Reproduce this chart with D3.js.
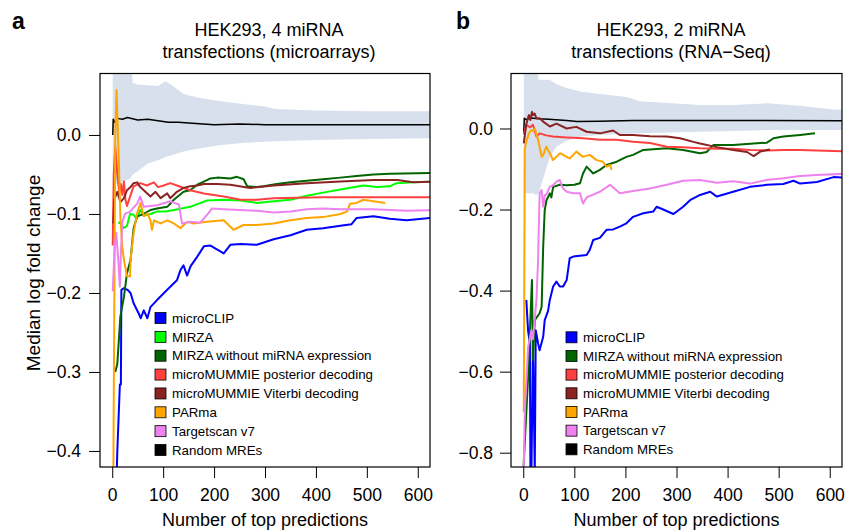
<!DOCTYPE html>
<html lang="en">
<head>
<meta charset="UTF-8">
<title>Median log fold change</title>
<script src="https://cdn.jsdelivr.net/npm/d3@7"></script>
<style>
  body { margin: 0; background: #fff; }
  text { font-family: "Liberation Sans", Arial, sans-serif; fill: #000; }
</style>
</head>
<body>
<svg id="chart" width="845" height="532"></svg>
<script>
// legend entries for each panel
var legendA = ['microCLIP', 'MIRZA', 'MIRZA without miRNA expression', 'microMUMMIE posterior decoding',
  'microMUMMIE Viterbi decoding', 'PARma', 'Targetscan v7', 'Random MREs']
var legendB = ['microCLIP', 'MIRZA without miRNA expression', 'microMUMMIE posterior decoding',
  'microMUMMIE Viterbi decoding', 'PARma', 'Targetscan v7', 'Random MREs']

var xTicks = [0, 100, 200, 300, 400, 500, 600]
var yTicksA = [0, -0.1, -0.2, -0.3, -0.4]
var yTicksB = [0, -0.2, -0.4, -0.6, -0.8]

// panel a : random MRE band (x, upper, lower)
var bandA_x = [1, 10, 20, 35, 40, 50, 70, 90, 105, 115, 140, 170, 210, 260, 300, 320, 400, 500, 640]
var bandA_hi = [0.12, 0.12, 0.12, 0.12, 0.066, 0.064, 0.063, 0.062, 0.068, 0.064, 0.052, 0.047, 0.043, 0.039, 0.036, 0.033, 0.031, 0.030, 0.030]
var bandA_lo = [-0.06, -0.062, -0.06, -0.055, -0.05, -0.046, -0.036, -0.032, -0.028, -0.026, -0.021, -0.017, -0.013, -0.010, -0.0085, -0.008, -0.0065, -0.005, -0.004]

// panel a : series, [number of predictions, median lfc]
var randomA = [[1,0.0],[2,0.02],[5,0.016],[10,0.021],[20,0.020],[30,0.022],[50,0.019],[70,0.020],[90,0.018],[110,0.016],[130,0.016],[150,0.015],[200,0.013],[250,0.014],[300,0.013],[400,0.013],[500,0.013],[640,0.013]]
var clipA = [[5,-0.45],[8,-0.45],[10,-0.40],[15,-0.316],[17,-0.316],[18,-0.196],[23,-0.194],[30,-0.196],[36,-0.200],[42,-0.213],[52,-0.226],[56,-0.232],[62,-0.222],[69,-0.232],[75,-0.218],[88,-0.209],[108,-0.196],[127,-0.184],[134,-0.171],[140,-0.165],[147,-0.178],[154,-0.166],[167,-0.154],[180,-0.141],[193,-0.140],[219,-0.150],[232,-0.139],[252,-0.138],[284,-0.139],[317,-0.132],[350,-0.127],[382,-0.120],[414,-0.118],[448,-0.115],[470,-0.113],[480,-0.105],[513,-0.103],[545,-0.106],[578,-0.108],[640,-0.104]]
var mirzaA = [[12,-0.112],[16,-0.110],[22,-0.118],[29,-0.115],[35,-0.100],[42,-0.101],[48,-0.106],[55,-0.095],[62,-0.102],[75,-0.100],[88,-0.097],[105,-0.097],[121,-0.095],[153,-0.091],[186,-0.083],[219,-0.082],[252,-0.083],[284,-0.086],[317,-0.084],[350,-0.082],[382,-0.077],[414,-0.073],[448,-0.069],[493,-0.064],[520,-0.066],[545,-0.065],[558,-0.061],[591,-0.060],[640,-0.059]]
var mirzaNoExprA = [[6,-0.30],[10,-0.29],[16,-0.23],[23,-0.205],[29,-0.175],[36,-0.158],[42,-0.118],[49,-0.103],[62,-0.100],[75,-0.095],[88,-0.093],[108,-0.091],[121,-0.082],[140,-0.072],[153,-0.070],[167,-0.063],[180,-0.059],[193,-0.055],[206,-0.054],[232,-0.055],[245,-0.053],[258,-0.056],[265,-0.065],[284,-0.066],[297,-0.065],[323,-0.062],[350,-0.060],[382,-0.058],[414,-0.056],[448,-0.054],[480,-0.052],[513,-0.050],[545,-0.049],[640,-0.048]]
var posteriorA = [[1,-0.14],[3,-0.05],[6,-0.015],[10,-0.05],[14,-0.074],[17,-0.062],[20,-0.076],[23,-0.059],[26,-0.082],[29,-0.090],[35,-0.078],[42,-0.065],[55,-0.061],[68,-0.064],[82,-0.060],[90,-0.066],[101,-0.064],[114,-0.061],[127,-0.064],[153,-0.070],[180,-0.074],[219,-0.078],[252,-0.082],[284,-0.082],[317,-0.080],[414,-0.079],[640,-0.079]]
var viterbiA = [[2,-0.112],[4,-0.082],[10,-0.072],[16,-0.085],[23,-0.080],[29,-0.070],[36,-0.066],[42,-0.061],[49,-0.060],[55,-0.066],[62,-0.070],[75,-0.078],[85,-0.072],[95,-0.080],[108,-0.074],[114,-0.080],[127,-0.072],[140,-0.067],[153,-0.065],[167,-0.064],[180,-0.062],[206,-0.062],[232,-0.063],[271,-0.067],[317,-0.064],[382,-0.061],[448,-0.059],[513,-0.057],[560,-0.057],[591,-0.060],[640,-0.059]]
var parmaA = [[2,-0.45],[6,0.0],[8.4,0.057],[13,-0.032],[16,-0.103],[19.6,-0.141],[23,-0.158],[29,-0.179],[35,-0.179],[36,-0.158],[42,-0.124],[49,-0.099],[55.5,-0.086],[62,-0.103],[69,-0.099],[75,-0.108],[78,-0.120],[82,-0.108],[95,-0.112],[108,-0.108],[121,-0.112],[134,-0.118],[147,-0.110],[160,-0.112],[186,-0.110],[219,-0.108],[238,-0.120],[258,-0.114],[284,-0.114],[317,-0.112],[350,-0.108],[382,-0.105],[414,-0.104],[448,-0.100],[461,-0.097],[467,-0.087],[480,-0.086],[493,-0.082],[513,-0.084],[536,-0.086]]
var tscanA = [[1,-0.198],[5,-0.14],[8,-0.124],[12,-0.16],[15,-0.192],[17,-0.15],[20,-0.11],[25,-0.100],[35,-0.097],[42,-0.092],[49,-0.087],[55,-0.078],[62,-0.091],[88,-0.089],[114,-0.084],[131,-0.088],[137,-0.112],[153,-0.110],[173,-0.111],[189,-0.099],[196,-0.093],[219,-0.094],[284,-0.096],[317,-0.098],[350,-0.097],[382,-0.094],[414,-0.093],[448,-0.094],[513,-0.094],[578,-0.096],[640,-0.095]]

// panel b : random MRE band
var bandB_x = [1, 10, 20, 25, 30, 40, 52, 65, 85, 111, 150, 202, 228, 281, 346, 411, 477, 542, 607, 640]
var bandB_hi = [0.2, 0.2, 0.2, 0.2, 0.12, 0.12, 0.12, 0.11, 0.10, 0.091, 0.085, 0.078, 0.067, 0.063, 0.058, 0.058, 0.062, 0.056, 0.047, 0.045]
var bandB_lo = [-0.16, -0.16, -0.16, -0.165, -0.16, -0.12, -0.07, -0.045, -0.030, -0.020, -0.016, -0.013, -0.012, -0.010, -0.008, -0.006, -0.004, -0.004, -0.004, -0.004]

// panel b : series
var randomB = [[1,-0.01],[2,0.025],[5,0.022],[15,0.026],[30,0.024],[50,0.023],[85,0.020],[105,0.017],[150,0.018],[215,0.020],[346,0.020],[640,0.019]]
var clipB = [[6,-0.423],[9.5,-0.50],[13,-0.53],[14,-0.85],[16,-0.85],[19,-0.53],[22.5,-0.85],[24.5,-0.498],[29,-0.53],[32,-0.547],[39,-0.514],[42,-0.473],[48.6,-0.45],[52,-0.423],[58.5,-0.39],[65,-0.378],[71.5,-0.39],[78,-0.39],[85,-0.374],[91,-0.32],[98,-0.316],[124,-0.312],[130,-0.30],[137,-0.275],[150,-0.27],[163,-0.25],[176,-0.249],[189,-0.242],[202,-0.234],[215,-0.218],[235,-0.209],[254.5,-0.205],[261,-0.193],[274,-0.200],[294,-0.211],[313,-0.193],[326.5,-0.177],[346,-0.164],[366,-0.156],[379,-0.168],[411,-0.156],[444,-0.144],[477,-0.139],[509,-0.137],[529,-0.129],[542,-0.136],[575,-0.132],[607.5,-0.120],[640,-0.122]]
var mirzaNoExprB = [[0,-0.85],[9.5,-0.613],[13,-0.50],[17,-0.374],[19,-0.572],[22.5,-0.473],[32,-0.456],[36,-0.44],[39,-0.292],[42,-0.201],[45.5,-0.177],[52,-0.160],[55,-0.170],[58.5,-0.144],[71.5,-0.139],[85,-0.140],[100,-0.139],[111,-0.135],[117,-0.111],[124,-0.094],[137,-0.111],[150,-0.102],[163,-0.090],[183,-0.082],[202,-0.070],[215,-0.065],[235,-0.053],[281,-0.049],[313,-0.053],[346,-0.061],[359,-0.058],[372,-0.041],[411,-0.041],[451,-0.037],[477,-0.035],[490,-0.024],[509,-0.020],[542,-0.016],[571,-0.012]]
var posteriorB = [[1,-0.015],[6,0.009],[13,0.003],[19,0.009],[26,-0.020],[32,-0.012],[45,-0.017],[58,-0.020],[85,-0.022],[117,-0.024],[150,-0.028],[183,-0.028],[215,-0.033],[248,-0.036],[281,-0.045],[313,-0.046],[346,-0.049],[379,-0.050],[411,-0.050],[444,-0.053],[477,-0.054],[510,-0.053],[542,-0.053],[575,-0.054],[640,-0.057]]
var viterbiB = [[1,-0.037],[6,0.011],[11,0.033],[14,0.021],[17,0.041],[19,0.033],[22,0.037],[26,0.025],[32,0.025],[39,0.017],[52,0.005],[65,0.012],[85,0.0],[104,0.004],[124,-0.008],[150,-0.012],[176,-0.005],[189,-0.016],[215,-0.016],[248,-0.019],[281,-0.020],[307,-0.024],[333,-0.033],[346,-0.037],[379,-0.046],[411,-0.053],[438,-0.058],[451,-0.068],[464,-0.057],[477,-0.053],[483,-0.052]]
var parmaB = [[1,-0.70],[3,-0.05],[6,-0.033],[11,-0.012],[16,-0.004],[19,-0.006],[22.5,0.0],[29,-0.028],[32,-0.045],[36,-0.070],[39,-0.065],[45,-0.045],[52,-0.061],[58,-0.078],[65,-0.070],[72,-0.061],[85,-0.070],[91,-0.074],[104,-0.057],[117,-0.070],[130,-0.065],[143.5,-0.078],[156,-0.082],[163,-0.094],[170,-0.090],[173,-0.102]]
var tscanB = [[1,-0.84],[3,-0.70],[9.5,-0.539],[16,-0.498],[19,-0.52],[26,-0.42],[29,-0.325],[32,-0.16],[36,-0.152],[39,-0.193],[42,-0.165],[45.5,-0.162],[52,-0.144],[58.5,-0.140],[65,-0.131],[71.5,-0.127],[75,-0.140],[78,-0.148],[85,-0.156],[98,-0.160],[111,-0.160],[117,-0.185],[124,-0.170],[150,-0.156],[170,-0.139],[189,-0.160],[215,-0.154],[248,-0.148],[281,-0.139],[313,-0.129],[346,-0.127],[379,-0.134],[411,-0.130],[444,-0.136],[477,-0.127],[509,-0.123],[542,-0.117],[575,-0.115],[640,-0.111]]

var colors = {
  'microCLIP': '#0000ff',
  'MIRZA': '#00ff00',
  'MIRZA without miRNA expression': '#006400',
  'microMUMMIE posterior decoding': '#ff4040',
  'microMUMMIE Viterbi decoding': '#8b2323',
  'PARma': '#ffa500',
  'Targetscan v7': '#ee82ee',
  'Random MREs': '#000000'
}

var svg = d3.select('#chart')
var top_ = 73.5, bottom_ = 467

function drawPanel (p) {
  var x = d3.scaleLinear().domain([-24, 624]).range([p.left, p.right])
  var y = d3.scaleLinear().domain(p.yDomain).range([bottom_, top_])

  svg.append('clipPath').attr('id', 'clip' + p.id)
    .append('rect')
    .attr('x', p.left).attr('y', top_)
    .attr('width', p.right - p.left).attr('height', bottom_ - top_)

  var plot = svg.append('g').attr('clip-path', 'url(#clip' + p.id + ')')

  // random MREs spread
  var band = p.bandX.map(function (v, i) { return [v, p.bandHi[i], p.bandLo[i]] })
  plot.append('path')
    .attr('d', d3.area().x(function (d) { return x(d[0]) })
      .y0(function (d) { return y(d[2]) })
      .y1(function (d) { return y(d[1]) })(band))
    .attr('fill', '#d7e0ec')

  var line = d3.line().x(function (d) { return x(d[0]) }).y(function (d) { return y(d[1]) })
  p.series.forEach(function (s) {
    plot.append('path')
      .attr('d', line(s.data))
      .attr('fill', 'none')
      .attr('stroke', colors[s.name])
      .attr('stroke-width', s.name === 'Random MREs' ? 1.5 : 2)
      .attr('stroke-linejoin', 'round')
  })

  // axes
  var ya = svg.append('g').attr('transform', 'translate(' + p.left + ',0)')
    .call(d3.axisLeft(y).tickValues(p.yTicks).tickSize(11).tickPadding(p.yPad).tickFormat(d3.format('.1f')))
  var xa = svg.append('g').attr('transform', 'translate(0,' + bottom_ + ')')
    .call(d3.axisBottom(x).tickValues(xTicks).tickSize(11).tickPadding(11))
  ;[ya, xa].forEach(function (a) {
    a.select('.domain').remove()
    a.selectAll('line').attr('stroke', '#000').attr('stroke-width', 1)
    a.selectAll('text').attr('font-size', 17.5).attr('fill', '#000')
      .attr('font-family', '"Liberation Sans", Arial, sans-serif')
  })

  svg.append('rect')
    .attr('x', p.left).attr('y', top_)
    .attr('width', p.right - p.left).attr('height', bottom_ - top_)
    .attr('fill', 'none').attr('stroke', '#000').attr('stroke-width', 1.2)

  // titles
  p.title.forEach(function (t, i) {
    svg.append('text').attr('x', p.titleX).attr('y', 36 + i * 22)
      .attr('text-anchor', 'middle').attr('font-size', 18).text(t)
  })
  svg.append('text').attr('x', p.letterX).attr('y', 29)
    .attr('font-size', 23).attr('font-weight', 'bold').text(p.letter)
  svg.append('text').attr('x', (p.left + p.right) / 2).attr('y', 526)
    .attr('text-anchor', 'middle').attr('font-size', 18).text('Number of top predictions')

  // legend
  var lg = svg.append('g')
  p.legend.forEach(function (name, i) {
    var cy = p.legendY + i * p.legendStep
    lg.append('rect').attr('x', p.legendX).attr('y', cy - 5.5)
      .attr('width', 11).attr('height', 11)
      .attr('fill', colors[name]).attr('stroke', '#000').attr('stroke-width', 0.8)
    lg.append('text').attr('x', p.legendX + 17).attr('y', cy + 4.7)
      .attr('font-size', 13.3).text(name)
  })
}

drawPanel({
  id: 'a', letter: 'a', letterX: 12, left: 100, right: 430,
  yDomain: [-0.4203, 0.0778], yTicks: yTicksA, yPad: 8,
  title: ['HEK293, 4 miRNA', 'transfections (microarrays)'], titleX: 269,
  bandX: bandA_x, bandHi: bandA_hi, bandLo: bandA_lo,
  series: [
    {name: 'Random MREs', data: randomA},
    {name: 'microCLIP', data: clipA},
    {name: 'MIRZA', data: mirzaA},
    {name: 'MIRZA without miRNA expression', data: mirzaNoExprA},
    {name: 'microMUMMIE posterior decoding', data: posteriorA},
    {name: 'microMUMMIE Viterbi decoding', data: viterbiA},
    {name: 'PARma', data: parmaA},
    {name: 'Targetscan v7', data: tscanA}
  ],
  legend: legendA, legendX: 155, legendY: 318, legendStep: 18.86
})

drawPanel({
  id: 'b', letter: 'b', letterX: 456, left: 511, right: 842,
  yDomain: [-0.8353, 0.1357], yTicks: yTicksB, yPad: 7,
  title: ['HEK293, 2 miRNA', 'transfections (RNA\u2212Seq)'], titleX: 671,
  bandX: bandB_x, bandHi: bandB_hi, bandLo: bandB_lo,
  series: [
    {name: 'Random MREs', data: randomB},
    {name: 'microCLIP', data: clipB},
    {name: 'MIRZA without miRNA expression', data: mirzaNoExprB},
    {name: 'microMUMMIE posterior decoding', data: posteriorB},
    {name: 'microMUMMIE Viterbi decoding', data: viterbiB},
    {name: 'PARma', data: parmaB},
    {name: 'Targetscan v7', data: tscanB}
  ],
  legend: legendB, legendX: 566, legendY: 337.3, legendStep: 18.67
})

// shared y axis title
svg.append('text')
  .attr('transform', 'translate(40,273) rotate(-90)')
  .attr('text-anchor', 'middle').attr('font-size', 19)
  .text('Median log fold change')
</script>
</body>
</html>
